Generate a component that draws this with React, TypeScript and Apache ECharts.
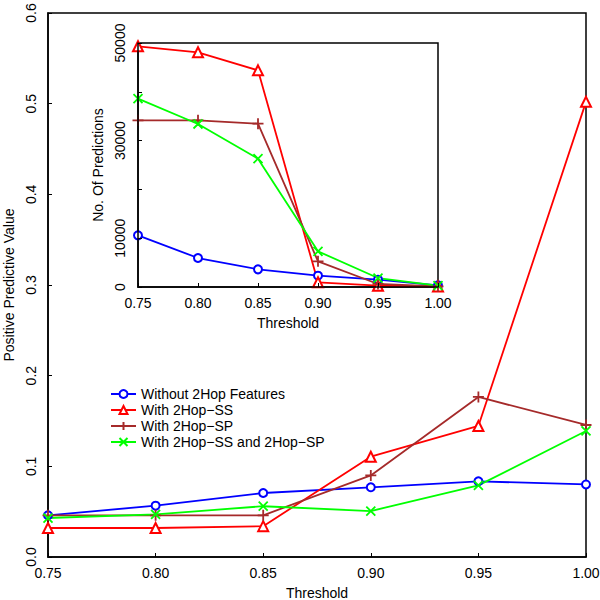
import React, { useEffect, useRef } from "react";
import * as echarts from "echarts";

const thresholds = ["0.75", "0.80", "0.85", "0.90", "0.95", "1.00"];
const seriesNames = [
  "Without 2Hop Features",
  "With 2Hop\u2212SS",
  "With 2Hop\u2212SP",
  "With 2Hop\u2212SS and 2Hop\u2212SP",
];
const colors = ["#0000ff", "#ff0000", "#a52a2a", "#00ff00"];

// Positive Predictive Value (main plot)
const ppvWithout = [0.046, 0.0566, 0.0706, 0.0769, 0.0835, 0.080];
const ppvSS = [0.032, 0.032, 0.034, 0.1106, 0.1445, 0.502];
const ppvSP = [0.046, 0.046, 0.046, 0.090, 0.1765, 0.1456];
const ppvSSSP = [0.043, 0.047, 0.056, 0.0507, 0.079, 0.139];

// No. of predictions (inset)
const nWithout = [10590, 5940, 3620, 2320, 1500, 340];
const nSS = [49320, 48090, 44400, 960, 270, 100];
const nSP = [34150, 34150, 33470, 5260, 620, 140];
const nSSSP = [38590, 33400, 26300, 7310, 1840, 270];

const mainYTicks = [0, 0.1, 0.2, 0.3, 0.4, 0.5, 0.6];
const insetYLabelled = [0, 10000, 30000, 50000];

const PLUS = "path://M0,5 L10,5 M5,0 L5,10";
const CROSS = "path://M0,0 L10,10 M0,10 L10,0";
const symbols = ["emptyCircle", "emptyTriangle", PLUS, CROSS];
const symbolSizes = [8, 10, 11, 9];

const FONT = "Liberation Sans, Arial, Helvetica, sans-serif";

export default function App() {
  const ref = useRef<HTMLDivElement>(null);
  useEffect(() => {
    if (!ref.current) return;
    const chart = echarts.init(ref.current, undefined, { renderer: "svg" });
    const mainData = [ppvWithout, ppvSS, ppvSP, ppvSSSP];
    const insetData = [nWithout, nSS, nSP, nSSSP];
    const mk = (i: number, data: number[], idx: number) => ({
      type: "line",
      name: seriesNames[i],
      xAxisIndex: idx,
      yAxisIndex: idx,
      data,
      symbol: symbols[i],
      symbolSize: symbolSizes[i],
      showAllSymbol: true,
      lineStyle: { color: colors[i], width: 1.8 },
      itemStyle: { color: colors[i], borderColor: colors[i], borderWidth: 1.8 },
      z: idx === 1 ? 5 : 2,
    });
    const axisCommon = {
      axisLine: { show: true, lineStyle: { color: "#000", width: 1.5 } },
      axisTick: { show: true, inside: true, length: 4, lineStyle: { color: "#000", width: 1 } },
      splitLine: { show: false },
      nameTextStyle: { color: "#000", fontSize: 14, fontFamily: FONT },
    };
    chart.setOption({
      animation: false,
      backgroundColor: "#fff",
      textStyle: { fontFamily: FONT },
      grid: [
        { left: 48, top: 13, right: 14, bottom: 43, containLabel: false, outerBoundsMode: "none", show: true, borderColor: "#000", borderWidth: 1.5, backgroundColor: "transparent" },
        { left: 138, top: 43, right: 162, bottom: 313, containLabel: false, outerBoundsMode: "none", show: true, borderColor: "#000", borderWidth: 1.5, backgroundColor: "#fff", z: 4 },
      ],
      legend: {
        orient: "vertical",
        left: 105,
        top: 382,
        itemWidth: 25,
        itemHeight: 10,
        itemGap: 2,
        data: seriesNames,
        textStyle: { color: "#000", fontSize: 14, fontFamily: FONT, lineHeight: 14 },
      },
      xAxis: [
        {
          ...axisCommon,
          type: "category",
          gridIndex: 0,
          data: thresholds,
          boundaryGap: false,
          name: "Threshold",
          nameLocation: "middle",
          nameGap: 29,
          axisLabel: { color: "#000", fontSize: 14, fontFamily: FONT, margin: 9 },
        },
        {
          ...axisCommon,
          type: "category",
          gridIndex: 1,
          data: thresholds,
          boundaryGap: false,
          name: "Threshold",
          nameLocation: "middle",
          nameGap: 29,
          z: 6,
          axisLabel: { color: "#000", fontSize: 14, fontFamily: FONT, margin: 9 },
        },
      ],
      yAxis: [
        {
          ...axisCommon,
          type: "value",
          gridIndex: 0,
          min: mainYTicks[0],
          max: mainYTicks[mainYTicks.length - 1],
          interval: 0.1,
          name: "Positive Predictive Value",
          nameLocation: "middle",
          nameGap: 31,
          axisLabel: {
            color: "#000",
            fontSize: 14,
            fontFamily: FONT,
            rotate: 90,
            margin: 10,
            formatter: (v: number) => v.toFixed(1),
          },
        },
        {
          ...axisCommon,
          type: "value",
          gridIndex: 1,
          min: 0,
          max: 50000,
          interval: 10000,
          name: "No. Of Predictions",
          nameLocation: "middle",
          nameGap: 33,
          z: 6,
          axisLabel: {
            color: "#000",
            fontSize: 14,
            fontFamily: FONT,
            rotate: 90,
            margin: 11,
            formatter: (v: number) => (insetYLabelled.includes(v) ? String(v) : ""),
          },
        },
      ],
      series: [
        ...mainData.map((d, i) => mk(i, d, 0)),
        ...insetData.map((d, i) => mk(i, d, 1)),
      ],
    });
    return () => chart.dispose();
  }, []);
  return <div ref={ref} style={{ width: 600, height: 600, position: "absolute", left: 0, top: 0 }} />;
}
